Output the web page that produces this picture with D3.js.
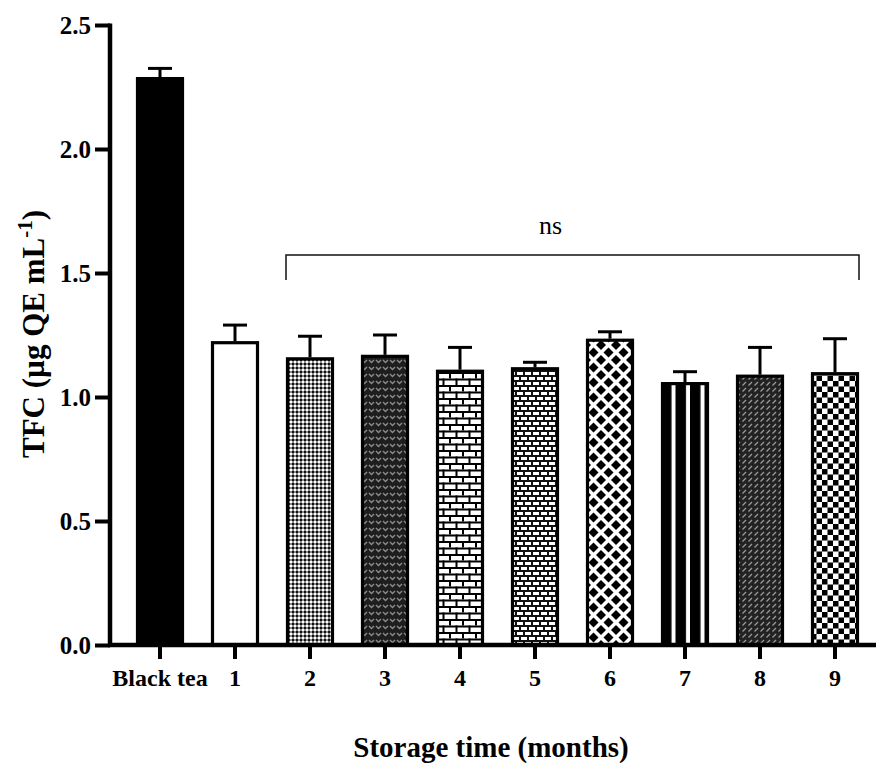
<!DOCTYPE html>
<html>
<head>
<meta charset="utf-8">
<script src="https://cdn.jsdelivr.net/npm/d3@7"></script>
<style>
  html, body { margin: 0; padding: 0; background: #fff; }
  svg { display: block; }
  text { font-family: "Liberation Serif", "Times New Roman", serif; fill: #000; }
</style>
</head>
<body>
<svg id="chart" width="876" height="763"></svg>
<script>
// Total flavonoid content over storage time
const categories = ["Black tea", "1", "2", "3", "4", "5", "6", "7", "8", "9"];
const means = [2.29, 1.225, 1.16, 1.17, 1.11, 1.12, 1.235, 1.06, 1.09, 1.10];
const errors = [0.035, 0.065, 0.085, 0.08, 0.09, 0.02, 0.028, 0.042, 0.11, 0.135];
const patternIds = ["solid", "none", "fineCheck", "darkV", "brick", "brickSmall", "diamond", "stripes", "darkDash", "check"];
const yTicks = [0, 0.5, 1.0, 1.5, 2.0, 2.5];
const sigLabel = "ns";

const svg = d3.select("#chart");

const y = d3.scaleLinear().domain([0, 2.5]).range([645, 25]);
const x = d3.scaleBand()
  .domain(categories)
  .range([122.5, 872.5])
  .paddingInner(0.36)
  .paddingOuter(0.18);

// Fill patterns for the storage-month bars
const defs = svg.append("defs");
function makePattern(id, w, h, barX, draw) {
  const p = defs.append("pattern")
    .attr("id", id)
    .attr("patternUnits", "userSpaceOnUse")
    .attr("width", w).attr("height", h)
    .attr("patternTransform", `translate(${barX},${y(0)})`);
  draw(p);
}
const bx = c => x(c);

makePattern("fineCheck", 4, 4, bx("2"), p => {
  p.append("rect").attr("width", 4).attr("height", 4).attr("fill", "#8c8c8c");
  p.append("rect").attr("width", 2).attr("height", 2).attr("fill", "#fff");
  p.append("rect").attr("x", 2).attr("y", 2).attr("width", 2).attr("height", 2).attr("fill", "#111");
});
makePattern("darkV", 7, 7, bx("3"), p => {
  p.append("rect").attr("width", 7).attr("height", 7).attr("fill", "#1e1e1e");
  p.append("path").attr("d", "M1,2 L3.5,4.5 L6,2").attr("fill", "none")
    .attr("stroke", "#8a8a8a").attr("stroke-width", 1.4);
});
makePattern("brick", 13, 13, bx("4"), p => {
  p.append("rect").attr("width", 13).attr("height", 13).attr("fill", "#fff");
  p.append("rect").attr("x", 0).attr("y", 0).attr("width", 13).attr("height", 2).attr("fill", "#000");
  p.append("rect").attr("x", 0).attr("y", 6.5).attr("width", 13).attr("height", 2).attr("fill", "#000");
  p.append("rect").attr("x", 0).attr("y", 0).attr("width", 2).attr("height", 6.5).attr("fill", "#000");
  p.append("rect").attr("x", 6.5).attr("y", 6.5).attr("width", 2).attr("height", 6.5).attr("fill", "#000");
});
makePattern("brickSmall", 8, 10, bx("5"), p => {
  p.append("rect").attr("width", 8).attr("height", 10).attr("fill", "#fff");
  p.append("rect").attr("x", 0).attr("y", 0).attr("width", 8).attr("height", 2).attr("fill", "#111");
  p.append("rect").attr("x", 0).attr("y", 5).attr("width", 8).attr("height", 2).attr("fill", "#111");
  p.append("rect").attr("x", 0).attr("y", 0).attr("width", 2).attr("height", 5).attr("fill", "#111");
  p.append("rect").attr("x", 4).attr("y", 5).attr("width", 2).attr("height", 5).attr("fill", "#111");
});
makePattern("diamond", 15, 15, bx("6"), p => {
  p.append("rect").attr("width", 15).attr("height", 15).attr("fill", "#fff");
  const d = 5;
  [[0, 0], [15, 0], [0, 15], [15, 15], [7.5, 7.5]].forEach(([cx, cy]) => {
    p.append("path")
      .attr("d", `M${cx},${cy - d} L${cx + d},${cy} L${cx},${cy + d} L${cx - d},${cy} Z`)
      .attr("fill", "#000");
  });
});
makePattern("stripes", 14.5, 10, bx("7"), p => {
  p.append("rect").attr("width", 14.5).attr("height", 10).attr("fill", "#000");
  p.append("rect").attr("x", 10.5).attr("width", 5).attr("height", 10).attr("fill", "#fff");
});
makePattern("darkDash", 6, 6, bx("8"), p => {
  p.append("rect").attr("width", 6).attr("height", 6).attr("fill", "#222");
  p.append("path").attr("d", "M0.5,4.5 L4,1").attr("stroke", "#9a9a9a").attr("stroke-width", 1.3);
});
makePattern("check", 11, 11, bx("9"), p => {
  p.append("rect").attr("width", 11).attr("height", 11).attr("fill", "#fff");
  p.append("rect").attr("x", 0).attr("y", 0).attr("width", 5.5).attr("height", 5.5).attr("fill", "#000");
  p.append("rect").attr("x", 5.5).attr("y", 5.5).attr("width", 5.5).attr("height", 5.5).attr("fill", "#000");
});

const fillFor = i => {
  const id = patternIds[i];
  if (id === "solid") return "#000";
  if (id === "none") return "#fff";
  return `url(#${id})`;
};

// Error bars (upper only), drawn behind bars
const eb = svg.append("g");
categories.forEach((c, i) => {
  const cx = x(c) + x.bandwidth() / 2;
  eb.append("line")
    .attr("x1", cx).attr("x2", cx)
    .attr("y1", y(means[i])).attr("y2", y(means[i] + errors[i]))
    .attr("stroke", "#000").attr("stroke-width", 3);
  eb.append("line")
    .attr("x1", cx - 12).attr("x2", cx + 12)
    .attr("y1", y(means[i] + errors[i])).attr("y2", y(means[i] + errors[i]))
    .attr("stroke", "#000").attr("stroke-width", 3);
});

// Bars
svg.append("g").selectAll("rect")
  .data(categories)
  .join("rect")
  .attr("x", d => x(d) + 1.5)
  .attr("y", (d, i) => y(means[i]) + 1.5)
  .attr("width", x.bandwidth() - 3)
  .attr("height", (d, i) => y(0) - y(means[i]) - 1.5)
  .attr("fill", (d, i) => fillFor(i))
  .attr("stroke", "#000")
  .attr("stroke-width", 3.2);

// Y axis
const yAxis = svg.append("g")
  .attr("transform", "translate(110,0)")
  .call(d3.axisLeft(y).tickValues(yTicks).tickFormat(d3.format(".1f")).tickSize(15).tickSizeOuter(0));
yAxis.select(".domain").attr("stroke", "#000").attr("stroke-width", 4.5)
  .attr("d", `M0,${y(0) + 2}V${y(2.5) - 1.5}`);
yAxis.selectAll(".tick line").attr("stroke", "#000").attr("stroke-width", 4);
yAxis.selectAll(".tick text")
  .attr("x", -19)
  .attr("dy", "0.34em")
  .attr("font-family", "Liberation Serif, serif")
  .attr("font-size", 25).attr("font-weight", "bold");

// X axis
const xAxis = svg.append("g")
  .attr("transform", `translate(0,${y(0)})`)
  .call(d3.axisBottom(x).tickSize(14).tickSizeOuter(0));
xAxis.select(".domain").attr("stroke", "#000").attr("stroke-width", 4.5)
  .attr("d", "M108,0H876");
xAxis.selectAll(".tick line").attr("stroke", "#000").attr("stroke-width", 4);
xAxis.selectAll(".tick text")
  .attr("y", 41)
  .attr("dy", 0)
  .attr("font-family", "Liberation Serif, serif")
  .attr("font-size", 24).attr("font-weight", "bold");

// Significance bracket over months 2-9
const bL = x("2"), bR = x("9") + x.bandwidth();
const bY = 255;
svg.append("path")
  .attr("d", `M${bL},${bY + 25}V${bY}H${bR}V${bY + 25}`)
  .attr("fill", "none").attr("stroke", "#111").attr("stroke-width", 1.5);
svg.append("text")
  .attr("x", (bL + bR) / 2 - 22).attr("y", bY - 21)
  .attr("text-anchor", "middle")
  .attr("font-size", 26)
  .text(sigLabel);

// Axis titles
svg.append("text")
  .attr("x", 491).attr("y", 757)
  .attr("text-anchor", "middle")
  .attr("font-size", 29).attr("font-weight", "bold")
  .text("Storage time (months)");

const yt = svg.append("text")
  .attr("transform", "translate(44,334) rotate(-90)")
  .attr("text-anchor", "middle")
  .attr("font-size", 31).attr("font-weight", "bold");
yt.append("tspan").text("TFC (µg QE mL");
yt.append("tspan").attr("dy", -12).attr("font-size", 21).text("-1");
yt.append("tspan").attr("dy", 12).text(")");
</script>
</body>
</html>
